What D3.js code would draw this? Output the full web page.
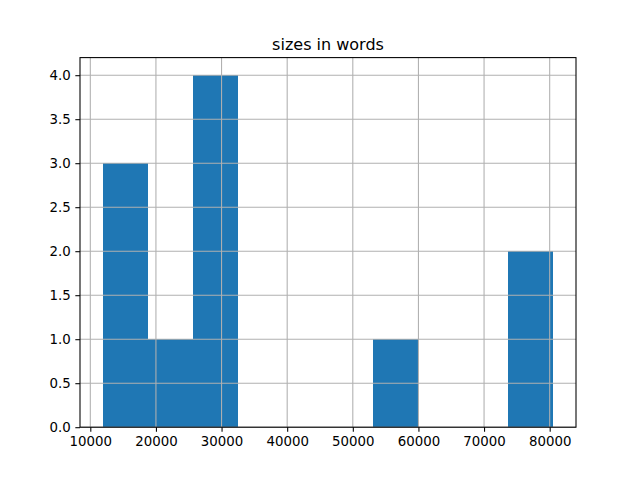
<!DOCTYPE html>
<html>
<head>
<meta charset="utf-8">
<script src="https://cdn.jsdelivr.net/npm/d3@7"></script>
<style>
	body { margin: 0; background: #fff; }
	text { font-family: "DejaVu Sans", sans-serif; fill: #000; }
</style>
</head>
<body>
<div id="chart"></div>
<script>
// histogram of document sizes (words), 10 equal bins between min and max
var sizeMin = 11865;
var sizeMax = 80574;
var binCounts = [3, 1, 4, 0, 0, 0, 1, 0, 0, 2];
var xTicks = [10000, 20000, 30000, 40000, 50000, 60000, 70000, 80000];
var yTicks = [0, 0.5, 1, 1.5, 2, 2.5, 3, 3.5, 4];
var chartTitle = "sizes in words";

var width = 640, height = 480;
// note: "top" is taken by window.top, so use plot* names
var plotLeft = 80, plotRight = 576, plotTop = 57.6, plotBottom = 427.2;

var svg = d3.select("#chart").append("svg")
	.attr("width", width)
	.attr("height", height);

var binWidth = (sizeMax - sizeMin) / binCounts.length;
var bins = binCounts.map(function(c, i) {
	return {x0: sizeMin + i * binWidth, x1: sizeMin + (i + 1) * binWidth, count: c};
});

// matplotlib style 5% margins
var pad = 0.05 * (sizeMax - sizeMin);
var x = d3.scaleLinear().domain([sizeMin - pad, sizeMax + pad]).range([plotLeft, plotRight]);
var yMax = d3.max(binCounts) * 1.05;
var y = d3.scaleLinear().domain([0, yMax]).range([plotBottom, plotTop]);

// bars
svg.append("g").selectAll("rect")
	.data(bins.filter(function(b) { return b.count > 0; }))
	.enter().append("rect")
	.attr("x", function(b) { return x(b.x0); })
	.attr("y", function(b) { return y(b.count); })
	.attr("width", function(b) { return x(b.x1) - x(b.x0); })
	.attr("height", function(b) { return y(0) - y(b.count); })
	.attr("shape-rendering", "crispEdges")
	.style("fill", "#1f77b4");

// grid (drawn over the bars like matplotlib)
var grid = svg.append("g").style("stroke", "#b0b0b0").style("stroke-width", 1.07);
grid.selectAll(".gx").data(xTicks).enter().append("line")
	.attr("x1", function(d) { return x(d); })
	.attr("x2", function(d) { return x(d); })
	.attr("y1", plotTop).attr("y2", plotBottom);
grid.selectAll(".gy").data(yTicks).enter().append("line")
	.attr("x1", plotLeft).attr("x2", plotRight)
	.attr("y1", function(d) { return y(d); })
	.attr("y2", function(d) { return y(d); });

// axes
var xAxis = d3.axisBottom(x).tickValues(xTicks).tickSize(4.67).tickPadding(4.67).tickFormat(d3.format("d"));
var yAxis = d3.axisLeft(y).tickValues(yTicks).tickSize(4.67).tickPadding(4.67).tickFormat(d3.format(".1f"));

var gx = svg.append("g").attr("transform", "translate(0," + plotBottom + ")").call(xAxis);
var gy = svg.append("g").attr("transform", "translate(" + plotLeft + ",0)").call(yAxis);

[gx, gy].forEach(function(g) {
	g.select(".domain").remove();
	g.selectAll(".tick line").style("stroke", "#000").style("stroke-width", 1.07);
	g.selectAll(".tick text")
		.style("font-family", "DejaVu Sans, sans-serif")
		.style("font-size", "13.33px")
		.style("fill", "#000");
});

// frame
svg.append("rect")
	.attr("x", plotLeft).attr("y", plotTop)
	.attr("width", plotRight - plotLeft).attr("height", plotBottom - plotTop)
	.style("fill", "none")
	.style("stroke", "#000")
	.style("stroke-width", 1.07);

svg.append("text")
	.attr("x", (plotLeft + plotRight) / 2)
	.attr("y", plotTop - 8)
	.style("text-anchor", "middle")
	.style("font-size", "16px")
	.text(chartTitle);
</script>
</body>
</html>
